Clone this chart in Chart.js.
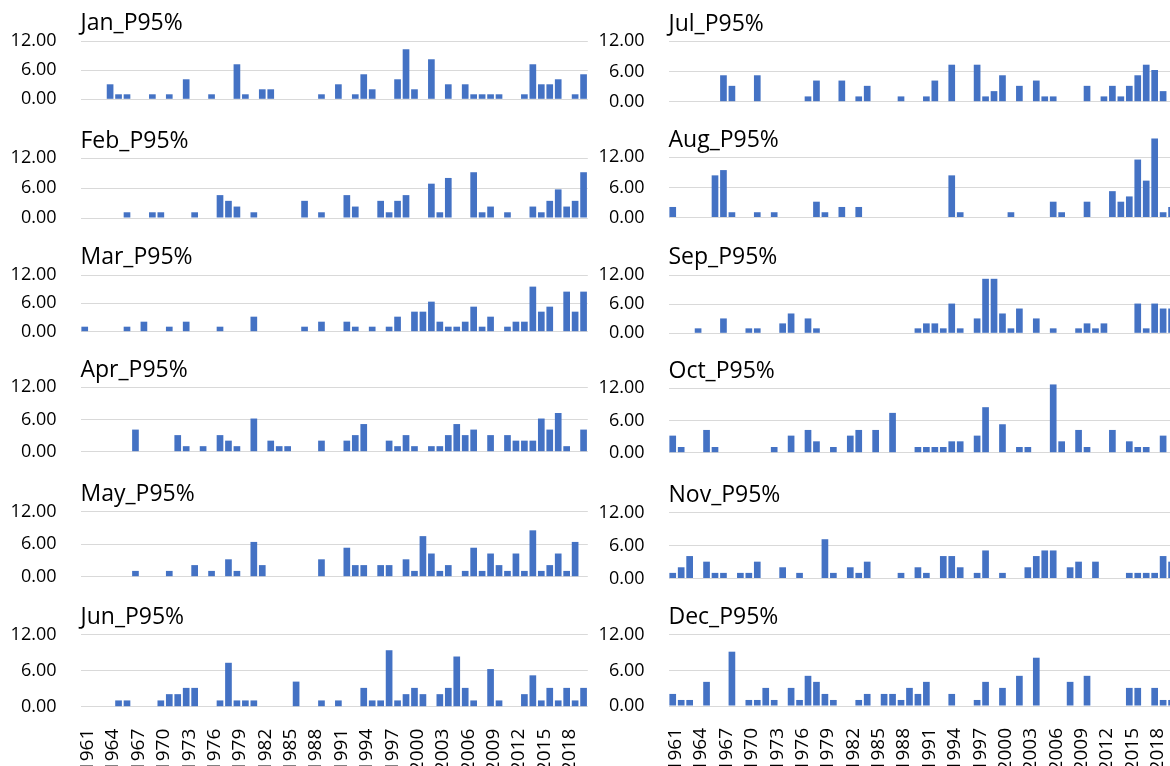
<!DOCTYPE html>
<html>
<head>
<meta charset="utf-8">
<script src="https://cdn.jsdelivr.net/npm/chart.js@4.4.1/dist/chart.umd.min.js"></script>
<style>
  html, body { margin: 0; padding: 0; background: #fff; }
  body { width: 1170px; height: 766px; overflow: hidden; position: relative; }
  canvas { position: absolute; }
</style>
</head>
<body>
<script>
const years = ['1961','1962','1963','1964','1965','1966','1967','1968','1969','1970',
  '1971','1972','1973','1974','1975','1976','1977','1978','1979','1980',
  '1981','1982','1983','1984','1985','1986','1987','1988','1989','1990',
  '1991','1992','1993','1994','1995','1996','1997','1998','1999','2000',
  '2001','2002','2003','2004','2005','2006','2007','2008','2009','2010',
  '2011','2012','2013','2014','2015','2016','2017','2018','2019','2020'];
const yTicks = [0, 6, 12];

const jan = [0,0,0,3.09,1.03,1.03,0,0,1.03,0,
  1.03,0,4.12,0,0,1.03,0,0,7.21,1.03,
  0,2.06,2.06,0,0,0,0,0,1.03,0,
  3.09,0,1.03,5.15,2.06,0,0,4.12,10.30,2.06,
  0,8.24,0,3.09,0,3.09,1.03,1.03,1.03,1.03,
  0,0,1.03,7.21,3.09,3.09,4.12,0,1.03,5.15];
const feb = [0,0,0,0,0,1.15,0,0,1.15,1.15,
  0,0,0,1.15,0,0,4.60,3.45,2.30,0,
  1.15,0,0,0,0,0,3.45,0,1.15,0,
  0,4.60,2.30,0,0,3.45,1.15,3.45,4.60,0,
  0,6.90,1.15,8.05,0,0,9.20,1.15,2.30,0,
  1.15,0,0,2.30,1.15,3.45,5.75,2.30,3.45,9.20];
const mar = [1.06,0,0,0,0,1.06,0,2.12,0,0,
  1.06,0,2.12,0,0,0,1.06,0,0,0,
  3.18,0,0,0,0,0,1.06,0,2.12,0,
  0,2.12,1.06,0,1.06,0,1.06,3.18,0,4.24,
  4.24,6.36,2.12,1.06,1.06,2.12,5.30,1.06,3.18,0,
  1.06,2.12,2.12,9.54,4.24,5.30,0,8.48,4.24,8.48];
const apr = [0,0,0,0,0,0,4.12,0,0,0,
  0,3.09,1.03,0,1.03,0,3.09,2.06,1.03,0,
  6.18,0,2.06,1.03,1.03,0,0,0,2.06,0,
  0,2.06,3.09,5.15,0,0,2.06,1.03,3.09,1.03,
  0,1.03,1.03,3.09,5.15,3.09,4.12,0,3.09,0,
  3.09,2.06,2.06,2.06,6.18,4.12,7.21,1.03,0,4.12];
const may = [0,0,0,0,0,0,1.07,0,0,0,
  1.07,0,0,2.14,0,1.07,0,3.21,1.07,0,
  6.42,2.14,0,0,0,0,0,0,3.21,0,
  0,5.35,2.14,2.14,0,2.14,2.14,0,3.21,1.07,
  7.49,4.28,1.07,2.14,0,1.07,5.35,1.07,4.28,2.14,
  1.07,4.28,1.07,8.56,1.07,2.14,4.28,1.07,6.42,0];
const jun = [0,0,0,0,1.05,1.05,0,0,0,1.05,
  2.10,2.10,3.15,3.15,0,0,1.05,7.35,1.05,1.05,
  1.05,0,0,0,0,4.20,0,0,1.05,0,
  1.05,0,0,3.15,1.05,1.05,9.45,1.05,2.10,3.15,
  2.10,0,2.10,3.15,8.40,3.15,1.05,0,6.30,1.05,
  0,0,2.10,5.25,1.05,3.15,1.05,3.15,1.05,3.15];
const jul = [0,0,0,0,0,0,5.25,3.15,0,0,
  5.25,0,0,0,0,0,1.05,4.20,0,0,
  4.20,0,1.05,3.15,0,0,0,1.05,0,0,
  1.05,4.20,0,7.35,0,0,7.35,1.05,2.10,5.25,
  0,3.15,0,4.20,1.05,1.05,0,0,0,3.15,
  0,1.05,3.15,1.05,3.15,5.25,7.35,6.30,2.10,0];
const aug = [2.10,0,0,0,0,8.40,9.45,1.05,0,0,
  1.05,0,1.05,0,0,0,0,3.15,1.05,0,
  2.10,0,2.10,0,0,0,0,0,0,0,
  0,0,0,8.40,1.05,0,0,0,0,0,
  1.05,0,0,0,0,3.15,1.05,0,0,3.15,
  0,0,5.25,3.15,4.20,11.55,7.35,15.75,1.05,2.10];
const sep = [0,0,0,1.02,0,0,3.06,0,0,1.02,
  1.02,0,0,2.04,4.08,0,3.06,1.02,0,0,
  0,0,0,0,0,0,0,0,0,1.02,
  2.04,2.04,1.02,6.12,1.02,0,3.06,11.22,11.22,4.08,
  1.02,5.10,0,3.06,0,1.02,0,0,1.02,2.04,
  1.02,2.04,0,0,0,6.12,1.02,6.12,5.10,5.10];
const oct = [3.18,1.06,0,0,4.24,1.06,0,0,0,0,
  0,0,1.06,0,3.18,0,4.24,2.12,0,1.06,
  0,3.18,4.24,0,4.24,0,7.42,0,0,1.06,
  1.06,1.06,1.06,2.12,2.12,0,3.18,8.48,0,5.30,
  0,1.06,1.06,0,0,12.72,2.12,0,4.24,1.06,
  0,0,4.24,0,2.12,1.06,1.06,0,3.18,0];
const nov = [1.02,2.04,4.08,0,3.06,1.02,1.02,0,1.02,1.02,
  3.06,0,0,2.04,0,1.02,0,0,7.14,1.02,
  0,2.04,1.02,3.06,0,0,0,1.02,0,2.04,
  1.02,0,4.08,4.08,2.04,0,1.02,5.10,0,1.02,
  0,0,2.04,4.08,5.10,5.10,0,2.04,3.06,0,
  3.06,0,0,0,1.02,1.02,1.02,1.02,4.08,3.06];
const dec = [2.04,1.02,1.02,0,4.08,0,0,9.18,0,1.02,
  1.02,3.06,1.02,0,3.06,1.02,5.10,4.08,2.04,1.02,
  0,0,1.02,2.04,0,2.04,2.04,1.02,3.06,2.04,
  4.08,0,0,2.04,0,0,1.02,4.08,0,3.06,
  0,5.10,0,8.16,0,0,0,4.08,0,5.10,
  0,0,0,0,3.06,3.06,0,3.06,1.02,1.02];

// layout of the 2 x 6 grid: y of the 12.00 and 0.00 gridlines
const panels = [
  { title: 'Jan_P95%', data: jan, col: 0, g12: 41,    g0: 99.3 },
  { title: 'Feb_P95%', data: feb, col: 0, g12: 158.3, g0: 218 },
  { title: 'Mar_P95%', data: mar, col: 0, g12: 275,   g0: 331.7 },
  { title: 'Apr_P95%', data: apr, col: 0, g12: 387.3, g0: 451.7 },
  { title: 'May_P95%', data: may, col: 0, g12: 511.7, g0: 576.7 },
  { title: 'Jun_P95%', data: jun, col: 0, g12: 635,   g0: 706.7, last: true },
  { title: 'Jul_P95%', data: jul, col: 1, g12: 41.3,  g0: 101.7 },
  { title: 'Aug_P95%', data: aug, col: 1, g12: 157.3, g0: 217.5 },
  { title: 'Sep_P95%', data: sep, col: 1, g12: 275,   g0: 333.3 },
  { title: 'Oct_P95%', data: oct, col: 1, g12: 388.3, g0: 452.7 },
  { title: 'Nov_P95%', data: nov, col: 1, g12: 512.5, g0: 578.5 },
  { title: 'Dec_P95%', data: dec, col: 1, g12: 635,   g0: 706,   last: true }
];

Chart.defaults.font.family = "'Open Sans', 'Noto Sans', sans-serif";
Chart.defaults.color = '#000';

const PLOT_W = 60 * 8.455;
const TITLE_SIZE = 23;
const TITLE_PAD = 3.5;
const TITLE_H = TITLE_SIZE * 1.2 + TITLE_PAD;
const X_AXIS_H = 60;

function makePanel(p) {
    const left = p.col === 0 ? 0 : 590;
    const axisW = p.col === 0 ? 80.5 : 78.5;
    const width = Math.ceil(axisW + PLOT_W) + 1;
    const top = Math.floor(p.g12 - TITLE_H - 4);
    const xH = p.last ? X_AXIS_H : 0;
    const below = p.last ? X_AXIS_H : 14;
    const height = Math.ceil(p.g0 + below - top);

    const cv = document.createElement('canvas');
    cv.width = width;
    cv.height = height;
    cv.style.left = left + 'px';
    cv.style.top = top + 'px';
    cv.style.width = width + 'px';
    cv.style.height = height + 'px';
    document.body.appendChild(cv);

    new Chart(cv, {
        type: 'bar',
        data: {
            labels: years,
            datasets: [{
                data: p.data,
                backgroundColor: '#4472C4',
                borderWidth: 0,
                barPercentage: 0.79,
                categoryPercentage: 1.0,
                clip: false,
            }]
        },
        options: {
            responsive: false,
            animation: false,
            devicePixelRatio: 1,
            layout: {
                padding: {
                    top: p.g12 - TITLE_H - top,
                    bottom: top + height - p.g0 - xH,
                    left: 0,
                    right: width - axisW - PLOT_W
                }
            },
            plugins: {
                legend: { display: false },
                tooltip: { enabled: false },
                title: {
                    display: true,
                    text: p.title,
                    align: 'start',
                    fullSize: false,
                    color: '#000',
                    font: { size: TITLE_SIZE, weight: 'normal', lineHeight: 1.2 },
                    padding: { top: 0, bottom: TITLE_PAD }
                }
            },
            scales: {
                x: {
                    display: !!p.last,
                    offset: true,
                    grid: { display: false },
                    border: { display: false },
                    afterFit: s => {
                        s.height = xH;
                        s.paddingLeft = 0;
                        s.paddingRight = 0;
                    },
                    ticks: {
                        autoSkip: false,
                        minRotation: 90,
                        maxRotation: 90,
                        padding: 14,
                        labelOffset: 3,
                        font: { size: 19 },
                        color: '#000',
                        callback: (v, i) => (i % 3 === 0 ? years[i] : '')
                    }
                },
                y: {
                    min: 0,
                    max: 12,
                    afterFit: s => {
                        s.width = axisW;
                        s.paddingTop = 0;
                        s.paddingBottom = 0;
                    },
                    afterBuildTicks: s => { s.ticks = yTicks.map(v => ({ value: v })); },
                    grid: { color: '#d9d9d9', lineWidth: 1, drawTicks: false },
                    border: { display: false },
                    ticks: {
                        autoSkip: false,
                        padding: 24,
                        font: { size: 18 },
                        color: '#000',
                        callback: v => Number(v).toFixed(2)
                    }
                }
            }
        }
    });
}

panels.forEach(makePanel);
</script>
</body>
</html>
